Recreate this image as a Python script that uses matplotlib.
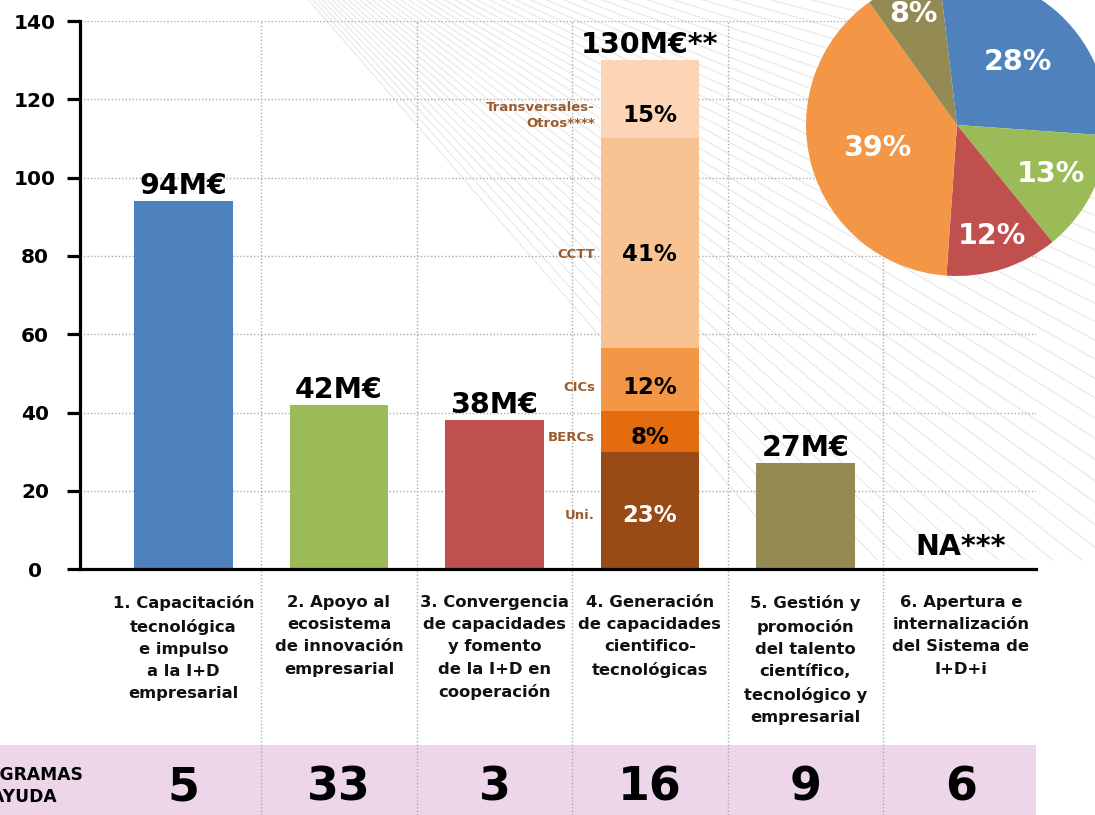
import numpy as np
import matplotlib
matplotlib.use('Agg')
import matplotlib.pyplot as plt
import matplotlib.transforms as mtransforms
from matplotlib.lines import Line2D
from matplotlib.patches import Rectangle

plt.rcParams['font.family'] = ['DejaVu Sans']

# datos
categorias = [
    "1. Capacitación\ntecnológica\ne impulso\na la I+D\nempresarial",
    "2. Apoyo al\necosistema\nde innovación\nempresarial",
    "3. Convergencia\nde capacidades\ny fomento\nde la I+D en\ncooperación",
    "4. Generación\nde capacidades\ncientifico-\ntecnológicas",
    "5. Gestión y\npromoción\ndel talento\ncientífico,\ntecnológico y\nempresarial",
    "6. Apertura e\ninternalización\ndel Sistema de\nI+D+i",
]
importes = [94, 42, 38, None, 27, None]
etiquetas_importe = ["94M€", "42M€", "38M€", "130M€**", "27M€", "NA***"]
colores_barras = ['#4F81BD', '#9BBB59', '#C0504D', None, '#948A54', None]

tramos_nombres = ["Uni.", "BERCs", "CICs", "CCTT", "Transversales-\nOtros****"]
tramos_valores = [29.9, 10.4, 16.1, 53.8, 19.9]
tramos_pct = ["23%", "8%", "12%", "41%", "15%"]
tramos_colores = ['#984A17', '#E36C0E', '#F39646', '#F8C292', '#FBD5B5']

programas = [5, 33, 3, 16, 9, 6]

pie_valores = [28, 13, 12, 39, 8]
pie_colores = ['#4F81BD', '#9BBB59', '#C0504D', '#F39646', '#948A54']

W, H = 1095, 815
fig = plt.figure(figsize=(W / 100, H / 100), dpi=100, facecolor='white')

# fondo decorativo: abanico de lineas grises
qx, qy = 170, -160
for ang in np.arange(14, 50, 0.9):
    t = np.deg2rad(ang)
    ye = 560
    xe = qx + (ye - qy) / np.tan(t)
    if xe > 1300:
        xe = 1300
        ye = qy + (xe - qx) * np.tan(t)
    fig.add_artist(Line2D([qx / W, xe / W], [1 - qy / H, 1 - ye / H],
                          transform=fig.transFigure, color='#EBEBEB',
                          lw=1.0, zorder=-2))

# banda rosa inferior
fig.add_artist(Rectangle((0, 0), 1036 / W, 70 / H, transform=fig.transFigure,
                         facecolor='#EDD6EA', edgecolor='none', zorder=-1))

ax = fig.add_axes([80 / W, (H - 569.1) / H, (1036 - 80) / W, 548 / H])
ax.set_facecolor('none')
x = np.arange(len(categorias))
ax.set_xlim(-0.665, 5.483)
ax.set_ylim(0, 140)
ancho = 0.635

for i, (v, c) in enumerate(zip(importes, colores_barras)):
    if v is not None:
        ax.bar(x[i], v, width=ancho, color=c, zorder=2)

base = 0
for val, col in zip(tramos_valores, tramos_colores):
    ax.bar(x[3], val, width=ancho, bottom=base, color=col, zorder=2)
    base += val
total_4 = base

alturas = [94, 42, 38, total_4, 27, 0]
for i, (h, lab) in enumerate(zip(alturas, etiquetas_importe)):
    off = 5 if h > 0 else 10
    ax.annotate(lab, (x[i], h), xytext=(0, off), textcoords='offset points',
                ha='center', va='baseline', fontsize=20.5, fontweight='bold',
                zorder=4)

desplaz = [-3.6, -4, -5.8, -8, -12.2]
base = 0
for val, pct, nom, dy in zip(tramos_valores, tramos_pct, tramos_nombres, desplaz):
    mid = base + val / 2
    ax.annotate(pct, (x[3], mid), xytext=(0, dy), textcoords='offset points',
                ha='center', va='center', fontsize=16.5, fontweight='bold',
                color='white' if pct == "23%" else 'black', zorder=4)
    ax.annotate(nom, (x[3] - ancho / 2, mid), xytext=(-4, dy),
                textcoords='offset points', ha='right', va='center',
                fontsize=9.5, fontweight='bold', color='#9C5B2C',
                linespacing=1.25, zorder=4)
    base += val

# ejes
for s in ['top', 'right']:
    ax.spines[s].set_visible(False)
ax.spines['left'].set_linewidth(2.3)
ax.spines['bottom'].set_linewidth(2.3)
ax.set_yticks(range(0, 141, 20))
ax.tick_params(axis='y', length=9.4, width=2.3, pad=23, labelsize=14.5)
for t in ax.get_yticklabels():
    t.set_fontweight('bold')
    t.set_horizontalalignment('center')
ax.set_xticks([])
ax.yaxis.grid(True, color='#ABABAB', linestyle=(0, (1, 1.5)), lw=1.0)
ax.set_axisbelow(True)

# separadores verticales, etiquetas y numero de programas
trans = mtransforms.blended_transform_factory(ax.transData, fig.transFigure)
for i in range(len(categorias) - 1):
    ax.plot([x[i] + 0.5, x[i] + 0.5], [0, 1 - 21 / H], transform=trans,
            color='#ABABAB', linestyle=(0, (1, 1.5)), lw=1.0,
            clip_on=False, zorder=1)

for i, cat in enumerate(categorias):
    ax.text(x[i], 1 - 595 / H, cat, transform=trans, ha='center', va='top',
            fontsize=11.8, fontweight='bold', linespacing=1.6, color='#111111')
    ax.text(x[i], 1 - 788 / H, str(programas[i]), transform=trans,
            ha='center', va='center', fontsize=33, fontweight='bold')

fig.text(-41 / W, 1 - 786 / H, "PROGRAMAS\nDE AYUDA", ha='left', va='center',
         fontsize=12.3, fontweight='bold', linespacing=1.25)

# tarta
axp = fig.add_axes([806 / W, (H - 276) / H, 302 / W, 302 / H])
wedges, _ = axp.pie(pie_valores, colors=pie_colores, startangle=96.8,
                    counterclock=False, radius=1,
                    wedgeprops=dict(linewidth=0))
axp.set_xlim(-1, 1)
axp.set_ylim(-1, 1)
dist = [0.58, 0.70, 0.77, 0.55, 0.79]
for w, d, v in zip(wedges, dist, pie_valores):
    a = np.deg2rad((w.theta1 + w.theta2) / 2)
    axp.text(d * np.cos(a), d * np.sin(a), f"{v}%", ha='center', va='center',
             fontsize=20.5, fontweight='bold', color='white')

fig.savefig('out.png', dpi=100, facecolor='white')
